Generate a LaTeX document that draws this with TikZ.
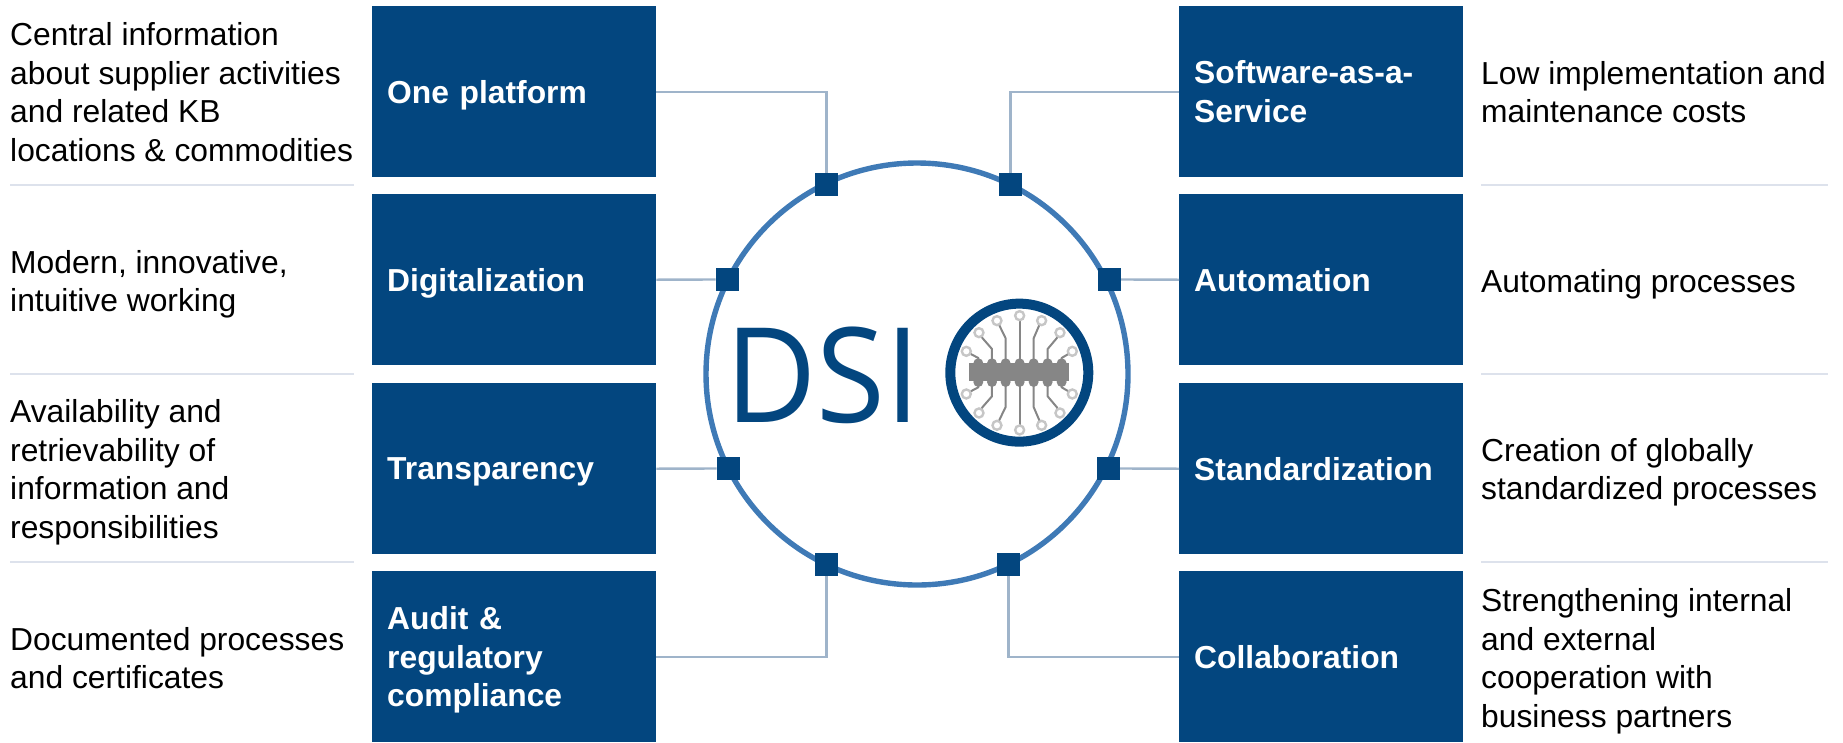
\documentclass[tikz,border=0pt]{standalone}
\usepackage{fontspec}
\setmainfont{Liberation Sans}
\newfontfamily\logofont{Open Sans}
\definecolor{kbblue}{HTML}{03467F}
\definecolor{ringblue}{HTML}{3F7AB6}
\definecolor{linkgray}{HTML}{9FB4CA}
\definecolor{rulegray}{HTML}{DDE2EC}
\definecolor{chipgray}{HTML}{868686}
\definecolor{padgray}{HTML}{C6C6C6}
\tikzset{
  bluebox/.style={fill=kbblue,text=white,font=\fontsize{31.8}{38.4}\selectfont\bfseries,
    minimum height=171pt,align=left,anchor=north west,inner xsep=15pt,inner ysep=0pt,text depth=0pt},
  leftbox/.style={bluebox,minimum width=284pt,text width=254pt},
  rightbox/.style={bluebox,minimum width=284pt,text width=254pt},
  multiline/.style={text depth=},
  desc/.style={font=\fontsize{31.8}{38.4}\selectfont,align=left,anchor=west,inner sep=0pt,text=black,text depth=0pt},
  link/.style={draw=linkgray,line width=2.4pt},
  sep/.style={draw=rulegray,line width=2pt},
  port/.style={fill=kbblue,minimum size=23pt,inner sep=0pt},
  trace/.style={draw=chipgray,line width=2pt,line join=round},
  pad/.style={draw=padgray,line width=2.4pt,fill=white,circle,minimum size=9pt,inner sep=0pt},
}
\begin{document}
\begin{tikzpicture}[x=1pt,y=-1pt]
\useasboundingbox (0,0) rectangle (1843,742);
% central ring
\node[circle,draw=ringblue,line width=5.4pt,minimum size=422pt,inner sep=0pt] (hub) at (917,374) {};
% boxes
\node[leftbox] (b1) at (372,6) {One platform};
\node[leftbox] (b2) at (372,194) {Digitalization};
\node[leftbox] (b3) at (372,383) {Transparency};
\node[leftbox,multiline] (b4) at (372,571) {Audit \&\\regulatory\\\smash{compliance}};
\node[rightbox,multiline] (r1) at (1179,6) {Software-as-a-\\Service};
\node[rightbox] (r2) at (1179,194) {Automation};
\node[rightbox] (r3) at (1179,383) {Standardization};
\node[rightbox] (r4) at (1179,571) {Collaboration};
% ports
\node[port] (s1) at (826.3,184.3) {};
\node[port] (s2) at (727.3,279.5) {};
\node[port] (s3) at (728.3,468.5) {};
\node[port] (s4) at (826.3,564.3) {};
\node[port] (t1) at (1010.3,184.3) {};
\node[port] (t2) at (1109.3,279.5) {};
\node[port] (t3) at (1108.3,468.5) {};
\node[port] (t4) at (1008.3,564.3) {};
% connectors
\draw[link] (b1.east) -| (s1.north);
\draw[link] (b2.east) -- (s2.west);
\draw[link] (b3.east) -- (s3.west);
\draw[link] (b4.east) -| (s4.south);
\draw[link] (r1.west) -| (t1.north);
\draw[link] (r2.west) -- (t2.east);
\draw[link] (r3.west) -- (t3.east);
\draw[link] (r4.west) -| (t4.south);
% descriptions
\node[desc] (d1) at (10,92) {Central information\\about supplier activities\\and related KB\\locations \& commodities};
\node[desc] (d2) at (10,281) {Modern, innovative,\\intuitive working};
\node[desc] (d3) at (10,469) {Availability and\\retrievability of\\information and\\responsibilities};
\node[desc] (d4) at (10,658) {Documented processes\\and certificates};
\node[desc] (e1) at (1481,92) {Low implementation and\\maintenance costs};
\node[desc] (e2) at (1481,281) {Automating processes};
\node[desc] (e3) at (1481,469) {Creation of globally\\standardized processes};
\node[desc] (e4) at (1481,658) {Strengthening internal\\and external\\cooperation with\\business partners};
% separators
\foreach \yy in {185,374,562}{
  \draw[sep] (10,\yy) -- (354,\yy);
  \draw[sep] (1481,\yy) -- (1828,\yy);
}
% DSI wordmark
\node[inner sep=0pt,anchor=base,text=kbblue,xscale=0.95,transform shape,font=\logofont\fontsize{132}{132}\selectfont] (dsi) at (823,422) {DSI};
% emblem (coordinates read at 3x from x=690,y=150)
\begin{scope}[shift={(690,150)},x=0.3333pt,y=-0.3333pt]
  \foreach \sy/\ya/\yb/\yc/\yd/\ye/\yf/\yg/\yh/\yi in {
     1/640/497/565/530/512/597/565/548/604,
    -1/696/840/771/806/826/739/771/789/732}{
    \draw[trace] (989,\ya) -- (989,\yb);
    \draw[trace] (947,\ya) -- (947,\yc) -- (930,\yd) -- (921,\ye);
    \draw[trace] (1031,\ya) -- (1031,\yc) -- (1046,\yd) -- (1055,\ye);
    \draw[trace] (906,\ya) -- (906,\yf) -- (878,\yg) -- (867,\yh);
    \draw[trace] (1073,\ya) -- (1073,\yf) -- (1100,\yg) -- (1110,\yh);
    \pgfmathsetmacro{\ym}{668-\sy*44}\pgfmathsetmacro{\yn}{668-\sy*54}
    \draw[trace] (865,\ya) -- (865,\ym) -- (846,\yn) -- (829,\yi);
    \draw[trace] (1115,\ya) -- (1115,\ym) -- (1132,\yn) -- (1147,\yi);
    \foreach \px in {865,906,947,989,1031,1073,1115}{
      \fill[chipgray] (\px,\ya) circle (15);
    }
    \node[pad] at (989,\yb) {};
    \node[pad] at (921,\ye) {};
    \node[pad] at (1055,\ye) {};
    \node[pad] at (867,\yh) {};
    \node[pad] at (1110,\yh) {};
    \node[pad] at (829,\yi) {};
    \node[pad] at (1147,\yi) {};
  }
  \fill[chipgray] (838,640) rectangle (1137,692);
  \draw[kbblue,line width=10pt] (988,668) circle (207);
\end{scope}
\end{tikzpicture}
\end{document}
